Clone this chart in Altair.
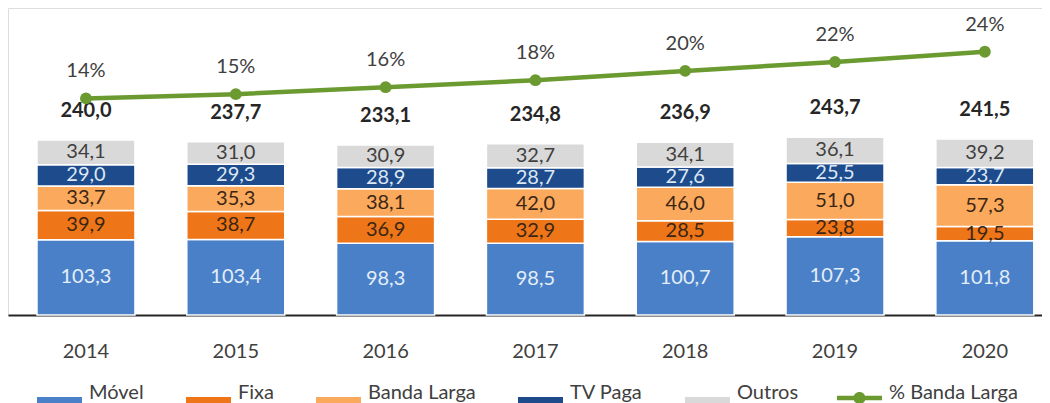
import altair as alt
import pandas as pd

years = ["2014", "2015", "2016", "2017", "2018", "2019", "2020"]
movel = [103.3, 103.4, 98.3, 98.5, 100.7, 107.3, 101.8]
fixa = [39.9, 38.7, 36.9, 32.9, 28.5, 23.8, 19.5]
banda = [33.7, 35.3, 38.1, 42.0, 46.0, 51.0, 57.3]
tv = [29.0, 29.3, 28.9, 28.7, 27.6, 25.5, 23.7]
outros = [34.1, 31.0, 30.9, 32.7, 34.1, 36.1, 39.2]
totals = [240.0, 237.7, 233.1, 234.8, 236.9, 243.7, 241.5]
pct_bl = [14.0, 14.9, 16.4, 17.9, 19.9, 21.8, 24.0]

series_names = ["Móvel", "Fixa", "Banda Larga", "TV Paga", "Outros"]
line_name = "% Banda Larga"
series_colors = ["#4a80c8", "#ee7518", "#fba95c", "#1d4b8c", "#d9d9d9"]
line_color = "#6b9a30"
label_colors = ["#e3eef9", "#3a2614", "#3a2614", "#dce8f6", "#404040"]

FONT = "Lato"


def fmt(v):
    return f"{v:.1f}".replace(".", ",")


rows = []
for i, yr in enumerate(years):
    for j, (name, vals) in enumerate(zip(series_names, [movel, fixa, banda, tv, outros])):
        rows.append({"year": yr, "series": name, "order": j, "value": vals[i],
                     "label": fmt(vals[i]), "lcolor": label_colors[j]})
bars_df = pd.DataFrame(rows)
tot_df = pd.DataFrame({"year": years, "total": totals, "label": [fmt(t) for t in totals]})
line_df = pd.DataFrame({"year": years, "pct": pct_bl, "name": [line_name] * len(years)})

x_enc = alt.X(
    "year:N",
    sort=years,
    scale=alt.Scale(paddingInner=0.346, paddingOuter=0.124, align=0.78),
    axis=alt.Axis(title=None, labelAngle=0, ticks=False, labelFontSize=20, labelFont=FONT,
                  labelColor="#404040", labelPadding=26, domainColor="#262626",
                  domainWidth=2, grid=False),
)

bar_scale = alt.Scale(domain=[0, 421])
pct_scale = alt.Scale(domain=[-32.5, 33.4])

rect_path = "M-1,0.2H1V0.6H-1Z"
line_path = ("M-1,0.145H1V0.345H-1Z "
             "M-0.27,0.245A0.27,0.27 0 1,1 0.27,0.245A0.27,0.27 0 1,1 -0.27,0.245Z")

legend_common = dict(
    title=None, orient="none", legendY=362, direction="horizontal",
    symbolSize=2025, symbolStrokeWidth=0, symbolOpacity=1,
    labelFontSize=20, labelFont=FONT, labelColor="#404040", labelOffset=7,
    columnPadding=42,
)

stacked = alt.Chart(bars_df).transform_stack(
    stack="value", groupby=["year"], as_=["y0", "y1"],
    sort=[alt.SortField("order", "ascending")],
).transform_calculate(mid="(datum.y0 + datum.y1) / 2")

bars = stacked.mark_bar(stroke="white", strokeWidth=1.5).encode(
    x=x_enc,
    y=alt.Y("y0:Q", scale=bar_scale, axis=None),
    y2="y1:Q",
    color=alt.Color(
        "series:N",
        scale=alt.Scale(domain=series_names, range=series_colors),
        legend=alt.Legend(legendX=29, columns=5, symbolType=rect_path, **legend_common),
    ),
    order=alt.Order("order:Q"),
)

seg_labels = stacked.mark_text(fontSize=20, font=FONT, baseline="middle").encode(
    x=x_enc,
    y=alt.Y("mid:Q", scale=bar_scale, axis=None),
    text="label:N",
    color=alt.Color("lcolor:N", scale=None),
)

tot_labels = alt.Chart(tot_df).mark_text(
    fontSize=20, font=FONT, fontWeight="bold", color="#262626", baseline="middle", dy=-29
).encode(
    x=x_enc,
    y=alt.Y("total:Q", scale=bar_scale, axis=None),
    text="label:N",
)

line_base = alt.Chart(line_df).transform_calculate(
    lbl="format(datum.pct, '.0f') + '%'"
)
line = line_base.mark_line(color=line_color, strokeWidth=4.5).encode(
    x=x_enc, y=alt.Y("pct:Q", scale=pct_scale, axis=None)
)
points = line_base.mark_circle(color=line_color, size=140, opacity=1).encode(
    x=x_enc, y=alt.Y("pct:Q", scale=pct_scale, axis=None)
)
line_legend_layer = line_base.mark_point(filled=True, color=line_color, opacity=0).encode(
    x=x_enc, y=alt.Y("pct:Q", scale=pct_scale, axis=None),
    shape=alt.Shape(
        "name:N",
        scale=alt.Scale(domain=[line_name], range=[line_path]),
        legend=alt.Legend(legendX=829, columns=1, symbolFillColor=line_color, **legend_common),
    ),
)
pct_labels = line_base.mark_text(
    fontSize=20, font=FONT, color="#404040", baseline="middle", dy=-27
).encode(
    x=x_enc, y=alt.Y("pct:Q", scale=pct_scale, axis=None), text="lbl:N"
)

chart = alt.layer(
    bars, seg_labels, tot_labels, line, points, line_legend_layer, pct_labels
).resolve_scale(
    y="independent"
).properties(
    width=1034, height=307, padding={"left": 0, "top": 0, "right": 0, "bottom": 0}
).configure_view(stroke=None).configure(background="white")

chart.save("out.html", embed_options={"renderer": "svg", "actions": False})
